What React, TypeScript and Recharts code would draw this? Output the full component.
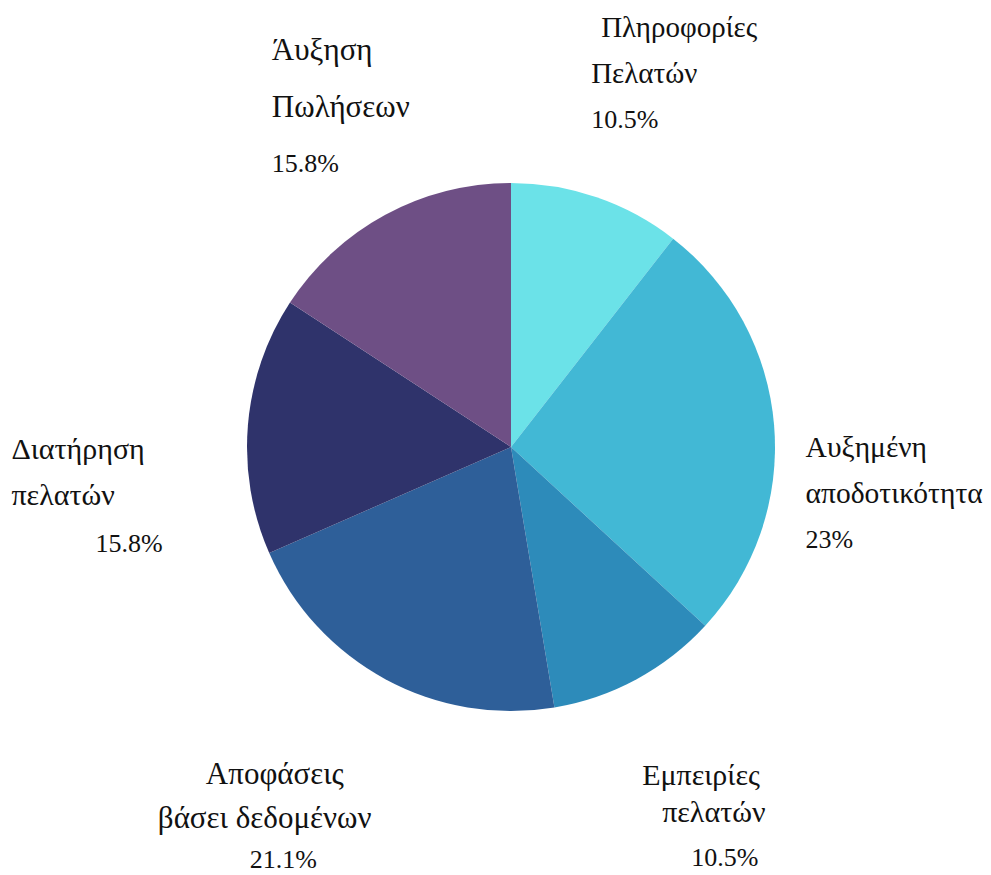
import React from 'react';
import { PieChart, Pie, Cell } from 'recharts';

const CATEGORIES = [
  'Πληροφορίες Πελατών',
  'Αυξημένη αποδοτικότητα',
  'Εμπειρίες πελατών',
  'Αποφάσεις βάσει δεδομένων',
  'Διατήρηση πελατών',
  'Άυξηση Πωλήσεων',
];
const VALUES = [2, 5, 2, 4, 3, 3];
const LABEL_LINES = [
  ['Πληροφορίες', 'Πελατών', '10.5%'],
  ['Αυξημένη', 'αποδοτικότητα', '23%'],
  ['Εμπειρίες', 'πελατών', '10.5%'],
  ['Αποφάσεις', 'βάσει δεδομένων', '21.1%'],
  ['Διατήρηση', 'πελατών', '15.8%'],
  ['Άυξηση', 'Πωλήσεων', '15.8%'],
];

const COLORS = ['#6be2e8', '#42b8d5', '#2d8bba', '#2e5f99', '#2f336b', '#6e4f85'];

// label placement relative to the point at outerRadius + LABEL_GAP on the slice's mid angle
const LABEL_GAP = 146;
const LABEL_FONT = [29, 29.5, 30, 31, 30, 31];
const LABEL_OFFSETS = [
  { dx: [-43, -53, -53], dy: [-22, 24, 69] },
  { dx: [-114, -114, -114], dy: [44, 90, 135] },
  { dx: [-64, -44, -15], dy: [-23, 14, 58] },
  { dx: [-110, -158, -66], dy: [-24, 20, 60] },
  { dx: [-91, -91, -7], dy: [46, 92, 139] },
  { dx: [-44, -44, -44], dy: [-26, 31, 86] },
];

const data = CATEGORIES.map((name, i) => ({ name, value: VALUES[i] }));

const renderLabel = ({ cx, cy, midAngle, outerRadius, index }: any) => {
  const RADIAN = Math.PI / 180;
  const r = outerRadius + LABEL_GAP;
  const x = cx + r * Math.cos(-midAngle * RADIAN);
  const y = cy + r * Math.sin(-midAngle * RADIAN);
  const off = LABEL_OFFSETS[index];
  return (
    <g key={`label-${index}`}>
      {LABEL_LINES[index].map((line, j) => (
        <text
          key={j}
          x={x + off.dx[j]}
          y={y + off.dy[j]}
          fill="#111"
          fontSize={j === 2 ? 26 : LABEL_FONT[index]}
          fontFamily="'Liberation Serif', 'Times New Roman', serif"
          textAnchor="start"
        >
          {line}
        </text>
      ))}
    </g>
  );
};

export default function App() {
  return (
    <div style={{ position: 'absolute', left: 0, top: 0, width: 991, height: 875, background: '#fff' }}>
      <PieChart width={991} height={875} margin={{ top: 0, right: 0, bottom: 0, left: 0 }}>
        <Pie
          data={data}
          dataKey="value"
          nameKey="name"
          cx={511}
          cy={447}
          outerRadius={264}
          startAngle={90}
          endAngle={-270}
          stroke="none"
          labelLine={false}
          label={renderLabel}
          isAnimationActive={false}
        >
          {data.map((entry, index) => (
            <Cell key={`cell-${index}`} fill={COLORS[index]} />
          ))}
        </Pie>
      </PieChart>
    </div>
  );
}
